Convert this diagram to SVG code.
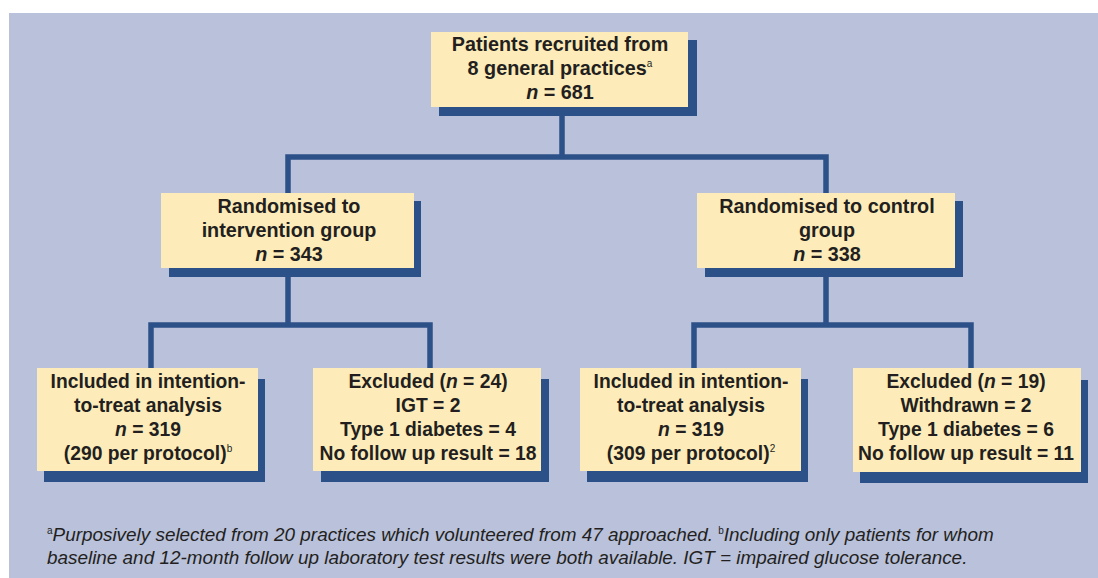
<svg xmlns="http://www.w3.org/2000/svg" width="1098" height="578" viewBox="0 0 1098 578">
<defs>
<style>
.bg{fill:#b9c1db}
.box{fill:#fdecb9}
.sh{fill:#2c5088}
.con{fill:none;stroke:#2c5088;stroke-width:5.5;stroke-linejoin:miter}
.t{font-family:"Liberation Sans",Arial,sans-serif;font-weight:bold;font-size:19.8px;fill:#231f20;text-anchor:middle}
.b{font-size:19.3px}
.sup{font-size:10px;font-weight:normal}
.it{font-style:italic}
.fn{font-family:"Liberation Sans",Arial,sans-serif;font-style:italic;font-size:18.9px;fill:#231f20}
.fsup{font-size:10px;font-style:normal}
</style>
</defs>
<rect class="bg" x="9" y="13" width="1089" height="565"/>
<g id="connectors">
<path class="con" d="M562,110 V157 M288,193 V157 H826 V193"/>
<path class="con" d="M288,268 V325 M151,368 V325 H430 V368"/>
<path class="con" d="M826,268 V325 M694,368 V325 H971 V368"/>
</g>
<g id="recruited">
<rect class="sh" x="439" y="40" width="258" height="76"/>
<rect class="box" x="431" y="32" width="257" height="75"/>
<text class="t" x="560" y="51">Patients recruited from</text>
<text class="t" x="560" y="75">8 general practices<tspan class="sup" dy="-8">a</tspan></text>
<text class="t" x="560" y="99"><tspan class="it">n</tspan> = 681</text>
</g>
<g id="intervention">
<rect class="sh" x="169" y="201" width="252" height="76"/>
<rect class="box" x="161" y="193" width="253" height="75"/>
<text class="t" x="289" y="213">Randomised to</text>
<text class="t" x="289" y="237">intervention group</text>
<text class="t" x="289" y="261"><tspan class="it">n</tspan> = 343</text>
</g>
<g id="control">
<rect class="sh" x="705" y="201" width="258" height="76"/>
<rect class="box" x="697" y="193" width="258" height="75"/>
<text class="t" x="827" y="213">Randomised to control</text>
<text class="t" x="827" y="237">group</text>
<text class="t" x="827" y="261"><tspan class="it">n</tspan> = 338</text>
</g>
<g id="itt-intervention">
<rect class="sh" x="44" y="379" width="221" height="103"/>
<rect class="box" x="37" y="368" width="221" height="103"/>
<text class="t b" x="148" y="388">Included in intention-</text>
<text class="t b" x="148" y="412">to-treat analysis</text>
<text class="t b" x="148" y="436"><tspan class="it">n</tspan> = 319</text>
<text class="t b" x="148" y="460">(290 per protocol)<tspan class="sup" dy="-8">b</tspan></text>
</g>
<g id="excluded-intervention">
<rect class="sh" x="321" y="379" width="228" height="103"/>
<rect class="box" x="313" y="368" width="228" height="103"/>
<text class="t b" x="428" y="388">Excluded (<tspan class="it">n</tspan> = 24)</text>
<text class="t b" x="428" y="412">IGT = 2</text>
<text class="t b" x="428" y="436">Type 1 diabetes = 4</text>
<text class="t b" x="428" y="460">No follow up result = 18</text>
</g>
<g id="itt-control">
<rect class="sh" x="587" y="379" width="221" height="103"/>
<rect class="box" x="580" y="368" width="221" height="103"/>
<text class="t b" x="691" y="388">Included in intention-</text>
<text class="t b" x="691" y="412">to-treat analysis</text>
<text class="t b" x="691" y="436"><tspan class="it">n</tspan> = 319</text>
<text class="t b" x="691" y="460">(309 per protocol)<tspan class="sup" dy="-8">2</tspan></text>
</g>
<g id="excluded-control">
<rect class="sh" x="860" y="380" width="228" height="103"/>
<rect class="box" x="853" y="368" width="228" height="104"/>
<text class="t b" x="966" y="388">Excluded (<tspan class="it">n</tspan> = 19)</text>
<text class="t b" x="966" y="412">Withdrawn = 2</text>
<text class="t b" x="966" y="436">Type 1 diabetes = 6</text>
<text class="t b" x="966" y="460">No follow up result = 11</text>
</g>
<g id="footnote">
<text class="fn" x="47" y="541"><tspan class="fsup" dy="-7">a</tspan><tspan dy="7">Purposively selected from 20 practices which volunteered from 47 approached. </tspan><tspan class="fsup" dy="-7">b</tspan><tspan dy="7">Including only patients for whom</tspan></text>
<text class="fn" x="47" y="564">baseline and 12-month follow up laboratory test results were both available. IGT = impaired glucose tolerance.</text>
</g>
</svg>
